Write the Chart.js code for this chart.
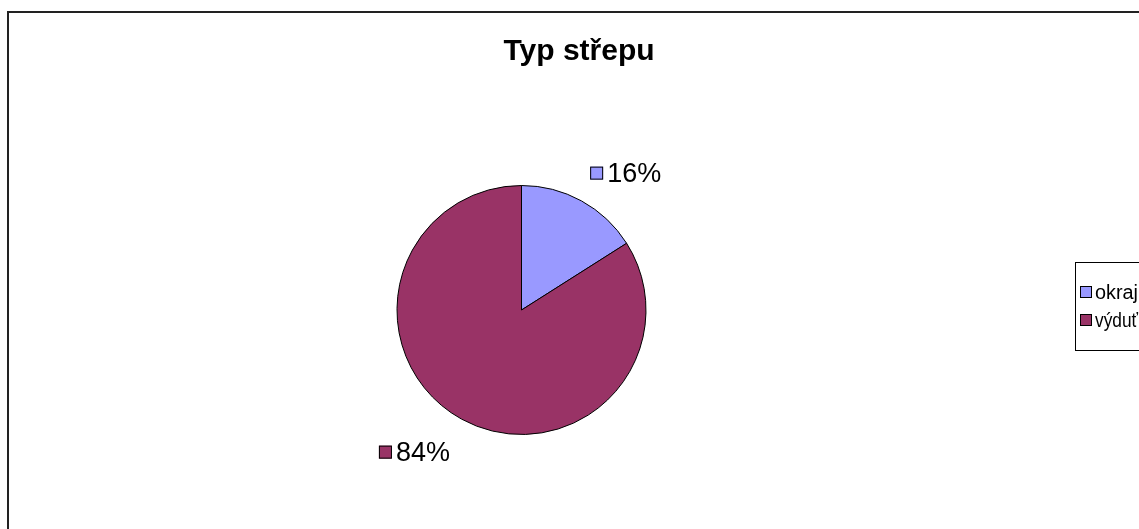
<!DOCTYPE html>
<html>
<head>
<meta charset="utf-8">
<script src="https://cdn.jsdelivr.net/npm/chart.js@4.4.1/dist/chart.umd.min.js"></script>
<style>
html,body{margin:0;padding:0;background:#fff;}
#wrap{width:1139px;height:529px;position:relative;}
</style>
</head>
<body>
<div id="wrap"><canvas id="c" width="1139" height="529"></canvas></div>
<script>
const chartTitle = "Typ střepu";
const categories = ["okraj", "výduť"];
const values = [16, 84];
const colors = ["#9999FF", "#993366"];

const FONT = "'Liberation Sans', Arial, sans-serif";

const decor = {
  id: 'decor',
  afterDraw(chart) {
    const ctx = chart.ctx;
    ctx.save();
    // outer frame
    ctx.strokeStyle = '#222';
    ctx.lineWidth = 2;
    ctx.strokeRect(8, 12, 1300, 700);
    // title
    ctx.fillStyle = '#000';
    ctx.font = 'bold 30px ' + FONT;
    ctx.textAlign = 'center';
    ctx.textBaseline = 'middle';
    ctx.fillText(chartTitle, 579, 52);
    // legend
    ctx.lineWidth = 1;
    ctx.strokeStyle = '#000';
    ctx.strokeRect(1075.5, 262.5, 200, 88);
    ctx.font = '20px ' + FONT;
    ctx.textAlign = 'left';
    const rowY = [292, 320];
    categories.forEach((c, i) => {
      ctx.fillStyle = colors[i];
      ctx.fillRect(1080, rowY[i] - 6, 12, 12);
      ctx.strokeRect(1080.5, rowY[i] - 5.5, 11, 11);
      ctx.fillStyle = '#000';
      ctx.fillText(c, 1095, rowY[i] + 1, 43);
    });
    // data labels
    const meta = chart.getDatasetMeta(0);
    const total = values.reduce((a, b) => a + b, 0);
    ctx.font = '27px ' + FONT;
    meta.data.forEach((arc, i) => {
      const mid = (arc.startAngle + arc.endAngle) / 2;
      const below = Math.sin(mid) > 0;
      const R = arc.outerRadius + (below ? 24 : 18);
      const px = arc.x + R * Math.cos(mid);
      const py = arc.y + R * Math.sin(mid);
      const txt = Math.round(values[i] / total * 100) + '%';
      const tw = ctx.measureText(txt).width;
      const bw = 13 + 4 + tw, bh = 24;
      const bx = Math.cos(mid) >= 0 ? px : px - bw;
      const by = below ? py : py - bh;
      const cy = by + bh / 2;
      ctx.fillStyle = colors[i];
      ctx.fillRect(bx, cy - 6.5, 13, 13);
      ctx.strokeStyle = '#000';
      ctx.strokeRect(bx + 0.5, cy - 6, 12, 12);
      ctx.fillStyle = '#000';
      ctx.textAlign = 'left';
      ctx.textBaseline = 'middle';
      ctx.fillText(txt, bx + 17, cy + 1);
    });
    ctx.restore();
  }
};

new Chart(document.getElementById('c'), {
  type: 'pie',
  data: {
    labels: categories,
    datasets: [{
      data: values,
      backgroundColor: colors,
      borderColor: '#000',
      borderWidth: 1
    }]
  },
  options: {
    responsive: false,
    animation: false,
    devicePixelRatio: 1,
    radius: 124.5,
    layout: { padding: { left: 0, right: 96, top: 91, bottom: 0 } },
    plugins: {
      legend: { display: false },
      title: { display: false },
      tooltip: { enabled: false }
    },
    events: []
  },
  plugins: [decor]
});
</script>
</body>
</html>
